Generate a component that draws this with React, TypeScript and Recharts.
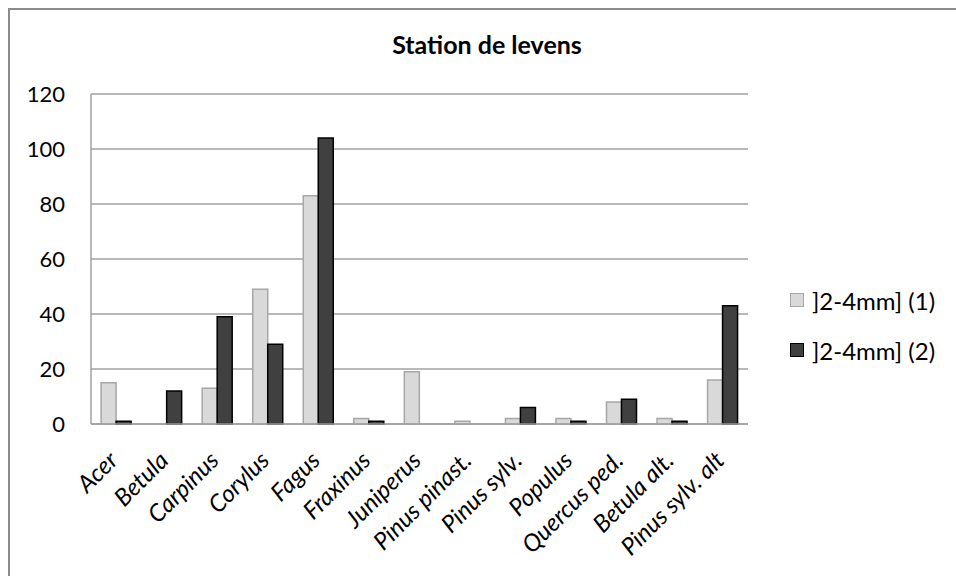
import React from 'react';
import { BarChart, Bar, XAxis, YAxis, CartesianGrid } from 'recharts';

const categories = [
  'Acer', 'Betula', 'Carpinus', 'Corylus', 'Fagus', 'Fraxinus', 'Juniperus',
  'Pinus pinast.', 'Pinus sylv.', 'Populus', 'Quercus ped.', 'Betula alt.', 'Pinus sylv. alt',
];
const serie1 = [15, 0, 13, 49, 83, 2, 19, 1, 2, 2, 8, 2, 16];
const serie2 = [1, 12, 39, 29, 104, 1, 0, 0, 6, 1, 9, 1, 43];
const yTicks = [0, 20, 40, 60, 80, 100, 120];
const seriesNames = [']2-4mm] (1)', ']2-4mm] (2)'];

const data = categories.map((name, i) => ({ name, s1: serie1[i], s2: serie2[i] }));

const FONT = 'Lato, "Open Sans", sans-serif';

const XTick = (props: any) => {
  const { x, y, payload } = props;
  return (
    <g transform={`translate(${x + 3},${y + 30})`}>
      <text
        transform="rotate(-45)"
        textAnchor="end"
        fontStyle="italic"
        fontSize={24}
        fontFamily={FONT}
        fill="#000"
      >
        {payload.value}
      </text>
    </g>
  );
};

export default function App() {
  return (
    <div style={{ position: 'fixed', left: 0, top: 0, width: 956, height: 576, overflow: 'hidden', background: '#fff' }}>
      <div
        style={{
          position: 'absolute',
          left: 8,
          top: 8,
          width: 980,
          height: 600,
          border: '2px solid #8c8c8c',
          background: '#fff',
          fontFamily: FONT,
        }}
      >
        <div
          style={{
            position: 'absolute',
            left: 277,
            top: 22,
            width: 400,
            textAlign: 'center',
            fontSize: 25,
            lineHeight: '25px',
            fontWeight: 700,
          }}
        >
          Station de levens
        </div>

        <BarChart
          width={960}
          height={580}
          data={data}
          margin={{ top: 84, right: 222, left: 21, bottom: 66 }}
          barCategoryGap="20%"
          barGap={0}
        >
          <CartesianGrid vertical={false} stroke="#a0a0a0" strokeWidth={1.5} />
          <XAxis
            dataKey="name"
            interval={0}
            height={100}
            tickLine={false}
            axisLine={{ stroke: '#a0a0a0', strokeWidth: 1.5 }}
            tick={<XTick />}
          />
          <YAxis
            width={60}
            domain={[0, 120]}
            ticks={yTicks}
            tickLine={false}
            tickSize={6}
            tickMargin={20}
            axisLine={{ stroke: '#a0a0a0', strokeWidth: 1.5 }}
            tick={{ fill: '#000', fontSize: 22, fontFamily: FONT }}
          />
          <Bar dataKey="s1" name={seriesNames[0]} fill="#d9d9d9" stroke="#a6a6a6" strokeWidth={1.5} isAnimationActive={false} />
          <Bar dataKey="s2" name={seriesNames[1]} fill="#404040" stroke="#000" strokeWidth={1.5} isAnimationActive={false} />
        </BarChart>

        {seriesNames.map((n, i) => (
          <div
            key={n}
            style={{
              position: 'absolute',
              left: 780,
              top: 279 + i * 50,
              height: 22,
              display: 'flex',
              alignItems: 'center',
              fontSize: 24,
              whiteSpace: 'nowrap',
            }}
          >
            <span
              style={{
                display: 'inline-block',
                width: 12,
                height: 12,
                background: i === 0 ? '#d9d9d9' : '#404040',
                border: `1.5px solid ${i === 0 ? '#a6a6a6' : '#000'}`,
                marginRight: 8,
              }}
            />
            {n}
          </div>
        ))}
      </div>
    </div>
  );
}
